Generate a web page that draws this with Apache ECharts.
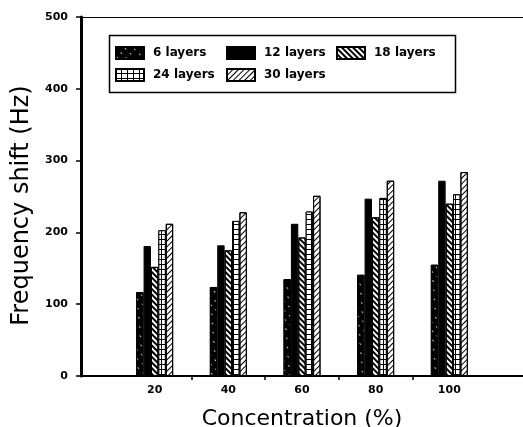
<!DOCTYPE html>
<html>
<head>
<meta charset="utf-8">
<script src="https://cdn.jsdelivr.net/npm/echarts@6/dist/echarts.min.js"></script>
<style>
  html, body { margin: 0; padding: 0; background: #fff; }
  #chart { width: 523px; height: 427px; }
</style>
</head>
<body>
<div id="chart"></div>
<script>
// concentration (%) on the x axis
const concentrations = [20, 40, 60, 80, 100];
const labelTicks = [20, 40, 60, 80, 100];
const minorTicks = [30, 50, 70, 90];

// frequency shift (Hz) per number of layers
const layers6 = [117, 124, 135, 141, 155];
const layers12 = [181, 182, 212, 247, 272];
const layers18 = [152, 175, 193, 221, 240];
const layers24 = [203, 216, 229, 248, 253];
const layers30 = [212, 228, 251, 272, 284];

const seriesNames = ['6 layers', '12 layers', '18 layers', '24 layers', '30 layers'];

const FONT = 'DejaVu Sans';

// empty slot at each end so the groups sit at 20..100 on a 0..120 axis
const axisSlots = [0].concat(concentrations, [120]).map(String);
const pad = (arr) => ['-'].concat(arr, ['-']);

const patterns = [
  { fill: '#000', decal: { symbol: 'rect', symbolSize: 1, color: 'rgba(255,255,255,0.75)', dashArrayX: [2, 5], dashArrayY: [1, 5], rotation: Math.PI / 4 } },
  { fill: '#000', decal: null },
  { fill: '#fff', decal: { symbol: 'rect', symbolSize: 1, color: '#000', dashArrayX: [1, 0], dashArrayY: [2, 2], rotation: Math.PI / 4 } },
  { fill: '#000', decal: { symbol: 'rect', symbolSize: 1, color: '#fff', dashArrayX: [5, 1], dashArrayY: [4, 1], rotation: 0 } },
  { fill: '#fff', decal: { symbol: 'rect', symbolSize: 1, color: '#000', dashArrayX: [1, 0], dashArrayY: [1, 3], rotation: -Math.PI / 4 } },
];

const values = [layers6, layers12, layers18, layers24, layers30];

const series = values.map((vals, i) => {
  const itemStyle = { color: patterns[i].fill, borderColor: '#000', borderWidth: 1 };
  if (patterns[i].decal) itemStyle.decal = patterns[i].decal;
  return {
    name: seriesNames[i],
    type: 'bar',
    xAxisIndex: 0,
    yAxisIndex: 0,
    barWidth: 7.4,
    barGap: '0%',
    itemStyle: itemStyle,
    emphasis: { disabled: true },
    data: pad(vals),
  };
});

const legendBase = {
  orient: 'vertical',
  top: 46,
  padding: 0,
  itemGap: 8,
  itemWidth: 28,
  itemHeight: 12,
  icon: 'rect',
  selectedMode: false,
  textStyle: { fontFamily: FONT, fontWeight: 'bold', fontSize: 12, color: '#000', padding: [0, 0, 0, 4] },
};

const chart = echarts.init(document.getElementById('chart'));

chart.setOption({
  animation: false,
  backgroundColor: '#fff',
  grid: { left: 81, right: 0, top: 17, bottom: 51, containLabel: false, outerBoundsMode: 'none' },
  legend: [
    Object.assign({}, legendBase, { left: 115, data: [seriesNames[0], seriesNames[3]] }),
    Object.assign({}, legendBase, { left: 226, data: [seriesNames[1], seriesNames[4]] }),
    Object.assign({}, legendBase, { left: 336, data: [seriesNames[2]] }),
  ],
  graphic: [{
    type: 'rect',
    left: 107,
    top: 33,
    shape: { width: 346, height: 57 },
    style: { fill: 'none', stroke: '#000', lineWidth: 1.5 },
  }],
  xAxis: [
    {
      type: 'category',
      data: axisSlots,
      boundaryGap: false,
      show: false,
    },
    {
      type: 'value',
      position: 'bottom',
      min: 0,
      max: 120,
      axisLine: { onZero: false, lineStyle: { color: '#000', width: 2 } },
      axisTick: { customValues: minorTicks, length: 4, lineStyle: { color: '#000', width: 1.5 } },
      axisLabel: { customValues: labelTicks, margin: 9, fontFamily: FONT, fontWeight: 'bold', fontSize: 11, color: '#000' },
      splitLine: { show: false },
      name: 'Concentration (%)',
      nameLocation: 'middle',
      nameGap: 32,
      nameTextStyle: { fontFamily: FONT, fontSize: 22, color: '#000' },
    },
    {
      type: 'value',
      position: 'top',
      min: 0,
      max: 120,
      axisLine: { onZero: false, lineStyle: { color: '#000', width: 1 } },
      axisTick: { show: false },
      axisLabel: { show: false },
      splitLine: { show: false },
    },
  ],
  yAxis: {
    type: 'value',
    min: 0,
    max: 500,
    interval: 100,
    axisLine: { show: true, onZero: false, lineStyle: { color: '#000', width: 3 } },
    axisTick: { show: true, length: 5, lineStyle: { color: '#000', width: 1.5 } },
    axisLabel: { margin: 13, fontFamily: FONT, fontWeight: 'bold', fontSize: 11, color: '#000' },
    splitLine: { show: false },
    name: 'Frequency shift (Hz)',
    nameLocation: 'middle',
    nameGap: 36,
    nameTextStyle: { fontFamily: FONT, fontSize: 24, color: '#000', padding: [0, 18, 0, 0] },
  },
  series: series,
});
</script>
</body>
</html>
